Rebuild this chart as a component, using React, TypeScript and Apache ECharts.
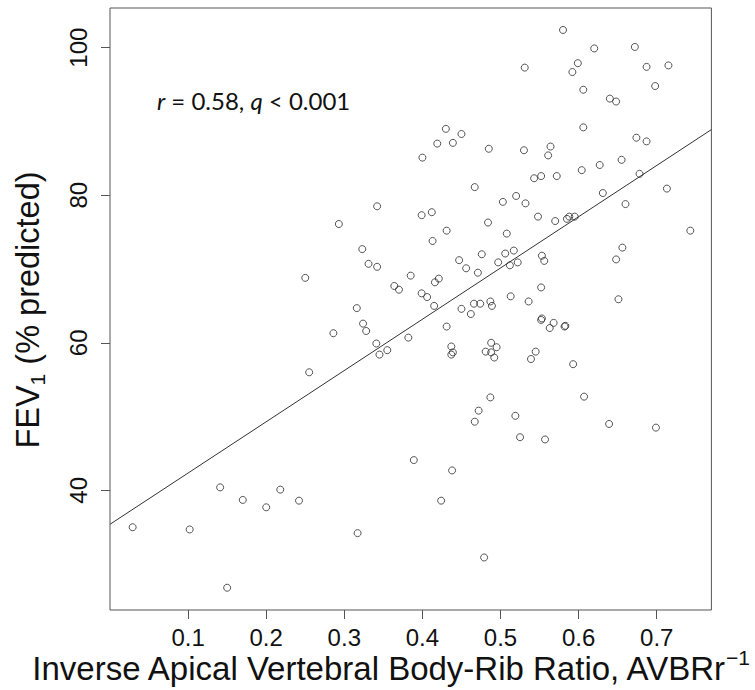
import React, { useEffect, useRef } from "react";
import * as echarts from "echarts";

// Inverse apical vertebral body-rib ratio (x) and FEV1 % predicted (y)
const avbrInv = [
  0.029, 0.102, 0.141, 0.170, 0.200, 0.218, 0.242, 0.150, 0.255, 0.317,
  0.250, 0.293, 0.286, 0.316, 0.323, 0.324, 0.328, 0.331, 0.342, 0.342,
  0.341, 0.355, 0.345, 0.364, 0.370, 0.382, 0.385, 0.389, 0.399, 0.406,
  0.399, 0.412, 0.400, 0.419, 0.430, 0.439, 0.450, 0.485, 0.467, 0.413,
  0.431, 0.484, 0.476, 0.447, 0.456, 0.471, 0.497, 0.421, 0.416, 0.415,
  0.450, 0.462, 0.466, 0.474, 0.487, 0.489, 0.431, 0.437, 0.439, 0.437,
  0.488, 0.495, 0.481, 0.488, 0.492, 0.487, 0.472, 0.467, 0.438, 0.424,
  0.479,
  0.580, 0.620, 0.672, 0.531, 0.599, 0.592, 0.687, 0.715, 0.698, 0.606,
  0.640, 0.648, 0.606, 0.674, 0.687, 0.530, 0.564, 0.561, 0.655, 0.627,
  0.604, 0.678, 0.543, 0.552, 0.572, 0.713, 0.631, 0.520, 0.503, 0.532,
  0.660, 0.548, 0.570, 0.585, 0.588, 0.595, 0.743, 0.508, 0.656, 0.648,
  0.506, 0.517, 0.512, 0.522, 0.553, 0.556, 0.552, 0.513, 0.536, 0.651,
  0.552, 0.553, 0.568, 0.563, 0.582, 0.583, 0.545, 0.539, 0.593, 0.607,
  0.519, 0.525, 0.557, 0.639, 0.699,
];
const fevPct = [
  35.0, 34.7, 40.4, 38.7, 37.7, 40.1, 38.6, 26.8, 56.0, 34.2,
  68.8, 76.1, 61.3, 64.7, 72.7, 62.6, 61.6, 70.7, 78.5, 70.3,
  59.9, 59.0, 58.4, 67.7, 67.2, 60.7, 69.1, 44.1, 66.7, 66.2,
  77.3, 77.7, 85.1, 87.0, 89.0, 87.1, 88.3, 86.3, 81.1, 73.8,
  75.2, 76.3, 72.0, 71.2, 70.1, 69.5, 70.9, 68.7, 68.2, 65.0,
  64.6, 63.9, 65.3, 65.3, 65.6, 65.0, 62.2, 59.5, 58.7, 58.4,
  60.0, 59.4, 58.8, 58.7, 58.0, 52.6, 50.8, 49.3, 42.7, 38.6,
  30.9,
  102.4, 99.9, 100.1, 97.3, 97.9, 96.7, 97.4, 97.6, 94.8, 94.3,
  93.1, 92.7, 89.2, 87.8, 87.3, 86.1, 86.6, 85.4, 84.8, 84.1,
  83.4, 82.9, 82.3, 82.6, 82.6, 80.9, 80.3, 79.9, 79.1, 78.9,
  78.8, 77.1, 76.5, 76.8, 77.1, 77.1, 75.2, 74.8, 72.9, 71.3,
  72.1, 72.5, 70.5, 70.9, 71.8, 71.1, 67.5, 66.3, 65.6, 65.9,
  63.1, 63.3, 62.7, 62.0, 62.2, 62.3, 58.8, 57.8, 57.1, 52.7,
  50.1, 47.2, 46.9, 49.0, 48.5,
];

// Fitted regression line endpoints
const fitX = [0.0, 0.77];
const fitY = [35.4, 88.9];

const xTicks = [0.1, 0.2, 0.3, 0.4, 0.5, 0.6, 0.7];
const yTicks = [40, 60, 80, 100];

const annotation = { r: "0.58", q: "0.001" };

export default function App() {
  const ref = useRef<HTMLDivElement>(null);

  useEffect(() => {
    document.body.style.margin = "0";
    const chart = echarts.init(ref.current!, null, { renderer: "svg" });
    const points = avbrInv.map((x, i) => [x, fevPct[i]]);
    const fit = fitX.map((x, i) => [x, fitY[i]]);
    const axisColor = "#555";
    chart.setOption({
      animation: false,
      backgroundColor: "#fff",
      grid: {
        left: 110,
        top: 8,
        right: 43.6,
        bottom: 80,
        show: true,
        borderColor: axisColor,
        borderWidth: 1,
        backgroundColor: "transparent",
      },
      xAxis: {
        type: "value",
        min: 0,
        max: 0.77,
        splitLine: { show: false },
        axisLine: { show: false },
        axisTick: {
          show: true,
          customValues: xTicks,
          length: 9,
          lineStyle: { color: axisColor, width: 1 },
        },
        axisLabel: {
          customValues: xTicks,
          formatter: (v: number) => v.toFixed(1),
          margin: 15,
          fontFamily: "Liberation Sans",
          fontSize: 24,
          lineHeight: 24,
          color: "#111",
        },
      },
      yAxis: {
        type: "value",
        min: 23.78,
        max: 105.38,
        splitLine: { show: false },
        axisLine: { show: false },
        axisTick: {
          show: true,
          customValues: yTicks,
          length: 9,
          lineStyle: { color: axisColor, width: 1 },
        },
        axisLabel: {
          customValues: yTicks,
          formatter: (v: number) => String(v),
          rotate: 90,
          margin: 20,
          fontFamily: "Liberation Sans",
          fontSize: 24,
          color: "#111",
        },
      },
      series: [
        {
          type: "line",
          data: fit,
          symbol: "none",
          lineStyle: { color: "#333", width: 1 },
          silent: true,
          z: 1,
        },
        {
          type: "scatter",
          data: points,
          symbol: "circle",
          symbolSize: 7,
          itemStyle: {
            color: "rgba(0,0,0,0)",
            borderColor: "#2a2a2a",
            borderWidth: 1,
          },
          z: 2,
        },
      ],
      graphic: [
        {
          type: "text",
          x: 157,
          y: 100,
          style: {
            text: `{i|r}{n| = ${annotation.r}, }{i|q}{n| < ${annotation.q}}`,
            align: "left",
            verticalAlign: "middle",
            rich: {
              i: { fontFamily: "Lato", fontStyle: "italic", fontSize: 24, fill: "#111" },
              n: { fontFamily: "Lato", fontSize: 24, fill: "#111" },
            },
          },
        },
        {
          type: "text",
          x: 725,
          y: 668,
          style: {
            text: "Inverse Apical Vertebral Body-Rib Ratio, AVBRr",
            align: "right",
            verticalAlign: "middle",
            fontFamily: "Liberation Sans",
            fontSize: 33,
            fill: "#111",
          },
        },
        {
          type: "text",
          x: 726,
          y: 657,
          style: {
            text: "−1",
            align: "left",
            verticalAlign: "middle",
            fontFamily: "Liberation Sans",
            fontSize: 21,
            fill: "#111",
          },
        },
        {
          type: "text",
          x: 28,
          y: 310,
          rotation: Math.PI / 2,
          style: {
            text: "{a|FEV}{s|1}{a| (% predicted)}",
            align: "center",
            verticalAlign: "middle",
            rich: {
              a: { fontFamily: "Liberation Sans", fontSize: 32.5, fill: "#111" },
              s: { fontFamily: "Liberation Sans", fontSize: 21, fill: "#111", padding: [18, 0, 0, 0] },
            },
          },
        },
      ],
    });
    return () => chart.dispose();
  }, []);

  return <div ref={ref} style={{ width: 755, height: 690 }} />;
}
